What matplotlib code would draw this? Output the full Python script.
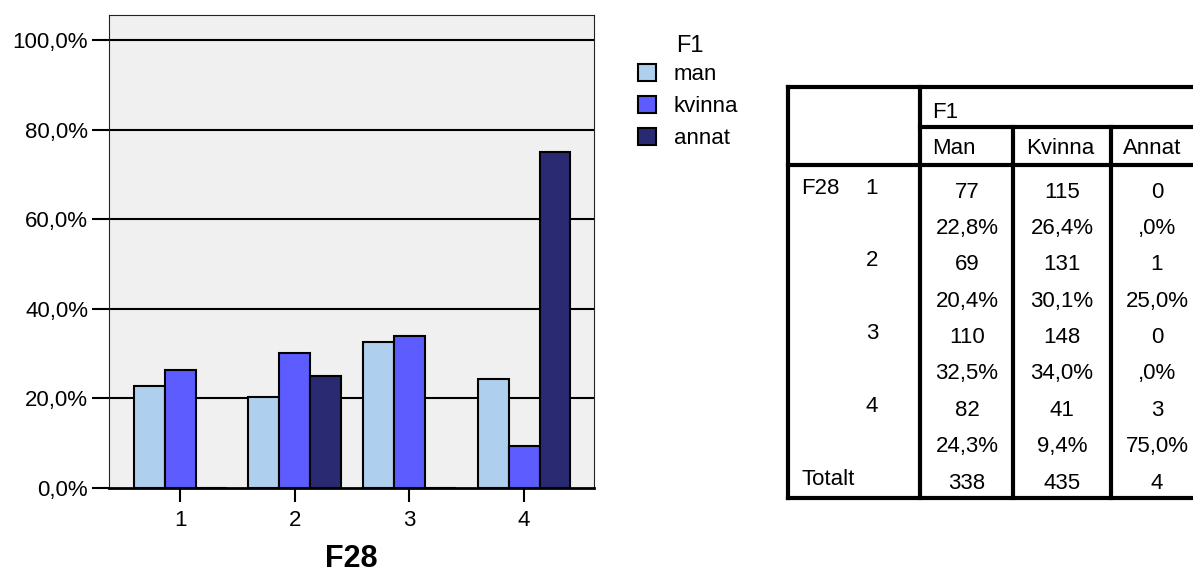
import numpy as np
import matplotlib.pyplot as plt

plt.rcParams['font.family'] = ['Liberation Sans', 'DejaVu Sans']

# data
categories = ['1', '2', '3', '4']
series = ['man', 'kvinna', 'annat']
man_pct = [22.8, 20.4, 32.5, 24.3]
kvinna_pct = [26.4, 30.1, 34.0, 9.4]
annat_pct = [0.0, 25.0, 0.0, 75.0]
colors = ['#aecfee', '#5c5cff', '#2a2a72']

# crosstab
col_headers = ['Man', 'Kvinna', 'Annat']
man_n = [77, 69, 110, 82]
kvinna_n = [115, 131, 148, 41]
annat_n = [0, 1, 0, 3]
totals = [338, 435, 4]

W, H = 1193, 574
fig = plt.figure(figsize=(W / 100, H / 100), dpi=100)
ax = fig.add_axes([109 / W, 1 - 488 / H, (594 - 109) / W, (488 - 15) / H])
ax.set_facecolor('#f0f0f0')

x = np.arange(1, len(categories) + 1)
w = 0.27
for i, (vals, name) in enumerate(zip([man_pct, kvinna_pct, annat_pct], series)):
    ax.bar(x + (i - 1) * w, vals, w, color=colors[i], edgecolor='black',
           linewidth=1.5, label=name, zorder=3)

ax.set_xlim(0.38, 4.61)
ax.set_ylim(0, 105.6)
yt = [0, 20, 40, 60, 80, 100]
ax.set_yticks(yt)
ax.yaxis.set_major_formatter(plt.FuncFormatter(lambda v, p: ('%.1f%%' % v).replace('.', ',')))
ax.set_xticks(x)
ax.set_xticklabels(categories)
for v in yt[1:]:
    ax.axhline(v, color='black', linewidth=1.5, zorder=2)
ax.tick_params(axis='y', length=12, width=1.5, labelsize=16, pad=3)
ax.tick_params(axis='x', length=10, width=1.5, labelsize=16, pad=6)
for s in ['top', 'right', 'left']:
    ax.spines[s].set_linewidth(0.8)
    ax.spines[s].set_color('#222222')
ax.spines['bottom'].set_linewidth(2)
ax.set_xlabel('F28', fontsize=22, fontweight='bold', labelpad=9)

leg = fig.legend(loc='upper left', bbox_to_anchor=(638 / W, 1 - 64 / H),
                 frameon=False, fontsize=16, borderpad=0,
                 handlelength=0.8, handleheight=0.8, handletextpad=0.8,
                 labelspacing=0.48, borderaxespad=0)
for h in leg.legend_handles:
    h.set_linewidth(1.5)
fig.text(676 / W, 1 - 46 / H, 'F1', fontsize=17, va='center', ha='left')

# table overlay in pixel coordinates
tx = fig.add_axes([0, 0, 1, 1], facecolor='none')
tx.set_xlim(0, W)
tx.set_ylim(H, 0)
tx.axis('off')

L, R, T, B = 788, 1205, 87, 498
v1, v2, v3 = 920, 1013, 1111
h1, h2 = 127, 165
lw = 3
tx.plot([L, R], [T, T], color='black', lw=lw)
tx.plot([L, R], [B, B], color='black', lw=lw)
tx.plot([L, L], [T, B], color='black', lw=lw)
tx.plot([v1, v1], [T, B], color='black', lw=lw)
tx.plot([v2, v2], [h1, B], color='black', lw=lw)
tx.plot([v3, v3], [h1, B], color='black', lw=lw)
tx.plot([v1, R], [h1, h1], color='black', lw=lw)
tx.plot([L, R], [h2, h2], color='black', lw=lw)

fs = 16
tx.text(932, 113, 'F1', fontsize=fs, va='center', ha='left')
hx = [932, 1026, 1123]
for hxi, hd in zip(hx, col_headers):
    tx.text(hxi, 148, hd, fontsize=fs, va='center', ha='left')

cx = [967, 1062, 1157]
row_y0, dy = 192, 36.4
for r, cat in enumerate(categories):
    yn = row_y0 + 2 * r * dy
    yp = yn + dy
    if r == 0:
        tx.text(801, yn - 4, 'F28', fontsize=fs, va='center', ha='left')
    tx.text(878, yn - 4, cat, fontsize=fs, va='center', ha='right')
    pcts = [man_pct[r], kvinna_pct[r], annat_pct[r]]
    ns = [man_n[r], kvinna_n[r], annat_n[r]]
    for c in range(3):
        tx.text(cx[c], yn, str(ns[c]), fontsize=fs, va='center', ha='center')
        p = ('%.1f%%' % pcts[c]).replace('.', ',')
        if p.startswith('0,'):
            p = p[1:]
        tx.text(cx[c], yp, p, fontsize=fs, va='center', ha='center')
yt_tot = row_y0 + 8 * dy
tx.text(801, yt_tot - 4, 'Totalt', fontsize=fs, va='center', ha='left')
for c in range(3):
    tx.text(cx[c], yt_tot, str(totals[c]), fontsize=fs, va='center', ha='center')

fig.savefig('out.png', dpi=100)
